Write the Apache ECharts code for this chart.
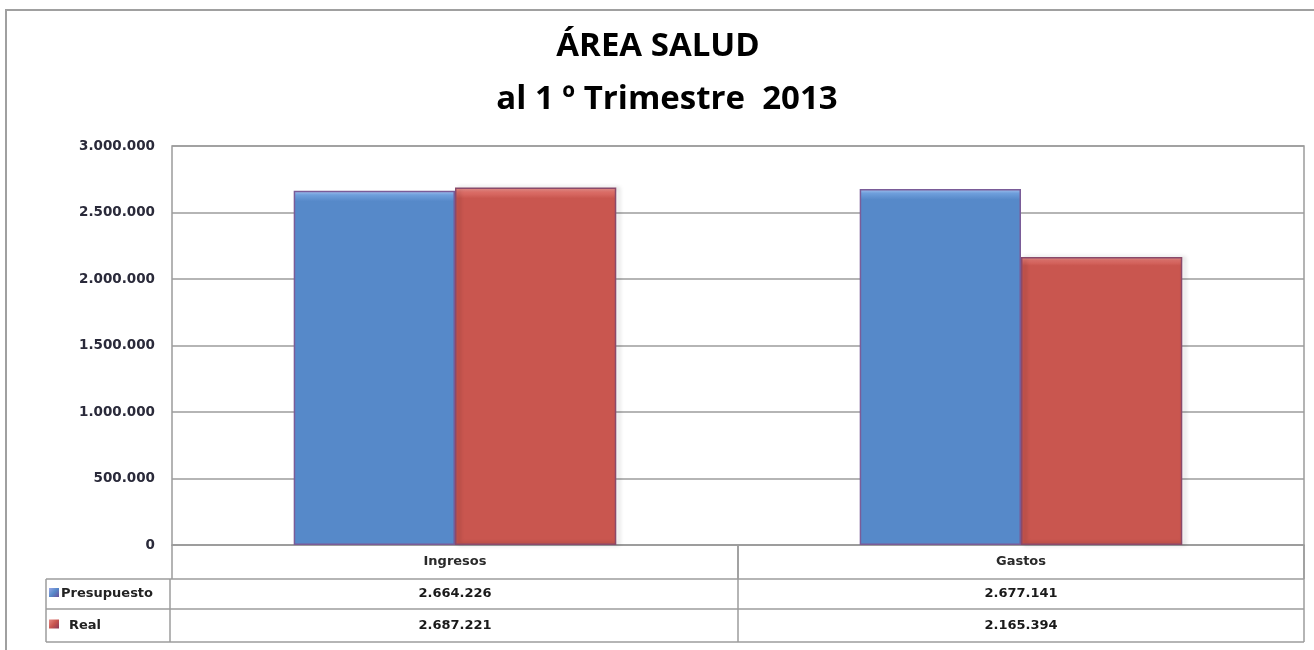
<!DOCTYPE html>
<html>
<head>
<meta charset="utf-8">
<style>
html,body{margin:0;padding:0;background:#fff;}
#chart{width:1314px;height:650px;}
</style>
<script src="https://cdn.jsdelivr.net/npm/echarts@6/dist/echarts.min.js"></script>
</head>
<body>
<div id="chart"></div>
<script>
var categories = ['Ingresos', 'Gastos'];
var seriesNames = ['Presupuesto', 'Real'];
var presupuesto = [2664226, 2677141];
var real = [2687221, 2165394];
var yTicks = [0, 500000, 1000000, 1500000, 2000000, 2500000, 3000000];
var titleLines = ['ÁREA SALUD', 'al 1 º Trimestre  2013'];

function fmt(v) {
  return String(v).replace(/\B(?=(\d{3})+(?!\d))/g, '.');
}

var FONT = '"Open Sans", "Noto Sans", sans-serif';
var SMALL = '"DejaVu Sans", sans-serif';
var GL = 172, GR = 1304, GT = 146, GB = 545;
var ROW1 = 579, ROW2 = 609, ROW3 = 642, TL = 46;
var blue = '#5689C9', red = '#C9564F', edge = '#7A5C98', lineGray = '#9c9c9c';

var chart = echarts.init(document.getElementById('chart'), null, {renderer: 'canvas'});

var option = {
  backgroundColor: '#fff',
  animation: false,
  grid: {left: GL, right: 1314 - GR, top: GT, bottom: 650 - GB, containLabel: false,
         show: true, borderColor: lineGray, borderWidth: 1.5},
  xAxis: {
    type: 'category',
    data: categories,
    axisLine: {show: true, lineStyle: {color: lineGray, width: 1.5}},
    axisTick: {show: true, length: ROW1 - GB, lineStyle: {color: lineGray, width: 1.5}},
    axisLabel: {margin: 10, fontFamily: SMALL, fontSize: 13, fontWeight: 'bold', color: '#2a2a2a'},
    splitLine: {show: false}
  },
  yAxis: {
    type: 'value',
    min: yTicks[0], max: yTicks[yTicks.length - 1], interval: yTicks[1] - yTicks[0],
    axisLine: {show: false},
    axisTick: {show: false},
    splitLine: {lineStyle: {color: lineGray, width: 1.5}},
    axisLabel: {margin: 17, fontFamily: SMALL, fontSize: 13.5, fontWeight: 'bold', color: '#2a2a3a',
                formatter: function (v) { return fmt(v); }}
  },
  series: [
    {name: seriesNames[0], type: 'bar', data: presupuesto, barGap: '0%', barCategoryGap: '43%',
     itemStyle: {color: {type: 'linear', x: 0, y: 0, x2: 0, y2: 1,
       colorStops: [{offset: 0, color: '#a8c4f0'}, {offset: 0.012, color: '#6f9fdc'}, {offset: 0.03, color: blue}, {offset: 1, color: blue}]},
       borderColor: edge, borderWidth: 1.5}},
    {name: seriesNames[1], type: 'bar', data: real,
     itemStyle: {color: {type: 'linear', x: 0, y: 0, x2: 0, y2: 1,
       colorStops: [{offset: 0, color: '#f09a96'}, {offset: 0.012, color: '#de706a'}, {offset: 0.03, color: red}, {offset: 1, color: red}]},
       borderColor: '#8a4a6a', borderWidth: 1.5,
       shadowColor: 'rgba(0,0,0,0.25)', shadowBlur: 4, shadowOffsetX: 3}}
  ]
};
chart.setOption(option);

// title, outer frame, and data table
var g = [];
g.push({type: 'rect', shape: {x: 6, y: 10, width: 1320, height: 660}, style: {fill: 'none', stroke: '#a0a0a0', lineWidth: 2}, silent: true});
g.push({type: 'text', style: {x: 658, y: 47, text: titleLines[0], fontFamily: FONT, fontSize: 33, fontWeight: 'bold', fill: '#000', align: 'center', verticalAlign: 'middle'}});
g.push({type: 'text', style: {x: 667, y: 100, text: titleLines[1], fontFamily: FONT, fontSize: 33, fontWeight: 'bold', fill: '#000', align: 'center', verticalAlign: 'middle'}});

function hline(x1, x2, y) { g.push({type: 'line', shape: {x1: x1, y1: y, x2: x2, y2: y}, style: {stroke: lineGray, lineWidth: 1.5}}); }
function vline(x, y1, y2) { g.push({type: 'line', shape: {x1: x, y1: y1, x2: x, y2: y2}, style: {stroke: lineGray, lineWidth: 1.5}}); }

hline(TL, GR, ROW1); hline(TL, GR, ROW2); hline(TL, GR, ROW3);
vline(TL, ROW1, ROW3); vline(GL - 2, ROW1, ROW3); vline(GR, GB, ROW3);
var mid = (GL + GR) / 2;
vline(mid, GB, ROW3);

var rows = [presupuesto, real];
var rowY = [(ROW1 + ROW2) / 2, (ROW2 + ROW3) / 2];
var keyColors = [['#9aa6e8', blue, '#6a4f9a'], ['#e58a86', red, '#8a3a5a']];
for (var r = 0; r < rows.length; r++) {
  g.push({type: 'rect', shape: {x: 49, y: rowY[r] - 6, width: 10, height: 9},
    style: {fill: {type: 'linear', x: 0, y: 0, x2: 1, y2: 1, colorStops: [{offset: 0, color: keyColors[r][0]}, {offset: 0.5, color: keyColors[r][1]}, {offset: 1, color: keyColors[r][2]}]}}});
  g.push({type: 'text', style: {x: r === 0 ? 61 : 69, y: rowY[r], text: seriesNames[r], fontFamily: SMALL, fontSize: 13, fontWeight: 'bold', fill: '#222', align: 'left', verticalAlign: 'middle'}});
  for (var c = 0; c < categories.length; c++) {
    var cx = chart.convertToPixel({xAxisIndex: 0}, categories[c]);
    g.push({type: 'text', style: {x: cx, y: rowY[r], text: fmt(rows[r][c]), fontFamily: SMALL, fontSize: 13, fontWeight: 'bold', fill: '#1a1a1a', align: 'center', verticalAlign: 'middle'}});
  }
}
chart.setOption({graphic: {elements: g}});
</script>
</body>
</html>
